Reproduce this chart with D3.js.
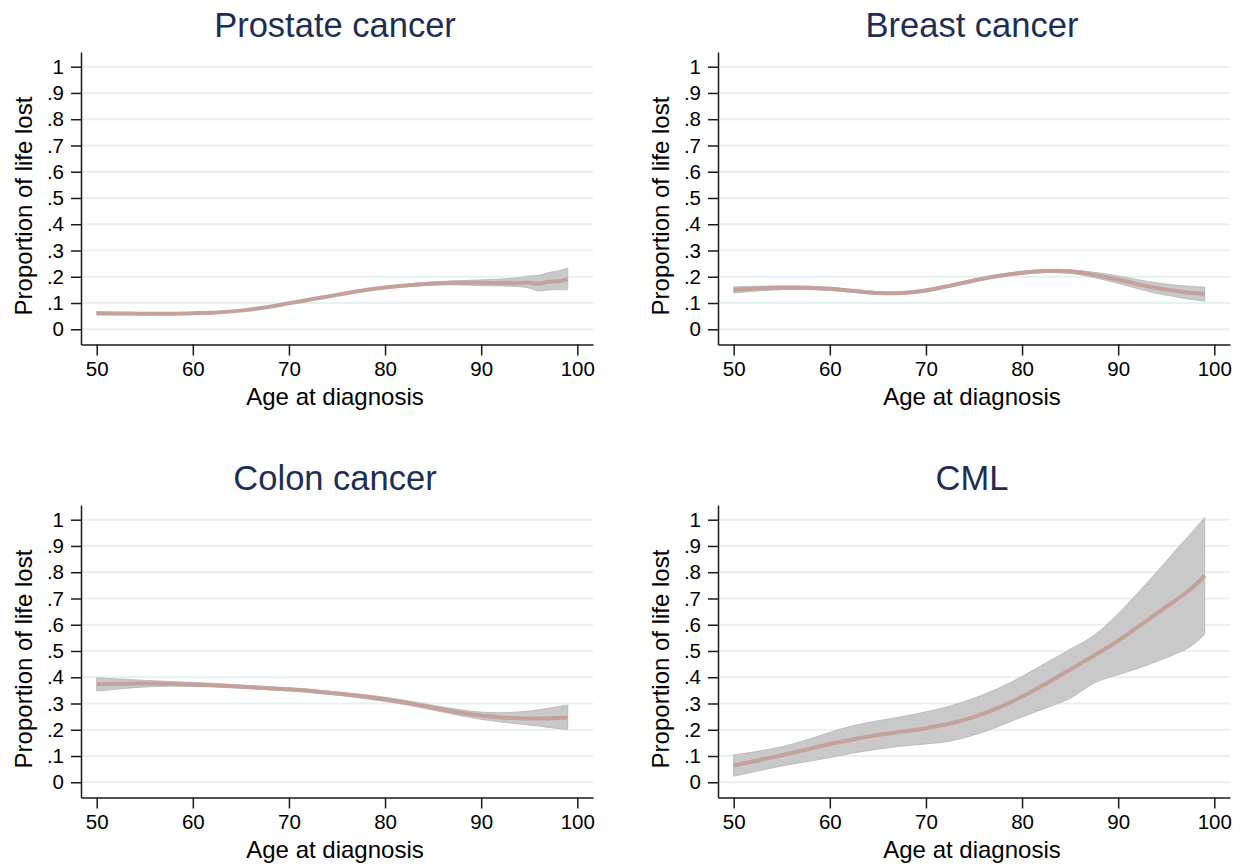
<!DOCTYPE html>
<html>
<head>
<meta charset="utf-8">
<script src="https://cdn.jsdelivr.net/npm/d3@7"></script>
<style>
    body { margin: 0; background: #fff; }
    svg { display: block; font-family: "Liberation Sans", Arial, sans-serif; }
</style>
</head>
<body>
<div class="chart-container"></div>
<script>
// age grid shared by all four panels
const ages = [50, 52.5, 55, 57.5, 60, 62.5, 65, 67.5, 70, 72.5, 75, 77.5, 80, 82.5, 85, 87.5, 90, 92, 94, 95, 96, 97, 98, 99];

const titles = ["Prostate cancer", "Breast cancer", "Colon cancer", "CML"];

const prostateEst = [.061, .060, .059, .059, .061, .064, .071, .083, .099, .115, .131, .147, .159, .168, .174, .177, .177, .176, .176, .178, .173, .181, .183, .190];
const prostateLo = [.055, .055, .055, .056, .058, .061, .068, .080, .096, .112, .128, .143, .155, .163, .168, .169, .166, .165, .162, .157, .146, .150, .151, .150];
const prostateHi = [.067, .065, .063, .062, .064, .067, .074, .086, .102, .118, .134, .151, .163, .173, .180, .185, .188, .191, .197, .203, .205, .216, .222, .233];

const breastEst = [.150, .155, .158, .158, .154, .146, .138, .138, .148, .166, .186, .203, .215, .222, .220, .207, .189, .172, .157, .151, .146, .141, .137, .134];
const breastLo = [.138, .146, .151, .152, .148, .141, .133, .133, .143, .161, .181, .198, .209, .216, .213, .197, .175, .155, .137, .130, .124, .117, .112, .107];
const breastHi = [.162, .164, .165, .164, .160, .151, .143, .143, .153, .171, .191, .208, .221, .228, .227, .217, .203, .189, .177, .172, .168, .165, .162, .161];

const colonEst = [.373, .375, .376, .375, .372, .369, .364, .359, .354, .347, .338, .328, .316, .301, .284, .267, .254, .247, .244, .243, .243, .244, .245, .246];
const colonLo = [.347, .356, .363, .366, .365, .363, .358, .353, .348, .341, .332, .321, .308, .293, .275, .256, .240, .230, .222, .218, .214, .209, .205, .201];
const colonHi = [.398, .393, .388, .384, .380, .376, .370, .365, .360, .353, .344, .335, .324, .309, .293, .278, .267, .265, .268, .271, .276, .282, .288, .294];

const cmlEst = [.064, .083, .103, .124, .146, .164, .180, .193, .206, .224, .249, .283, .326, .376, .429, .483, .539, .590, .642, .668, .694, .720, .750, .787];
const cmlLo = [.023, .043, .062, .078, .094, .112, .126, .138, .146, .157, .180, .212, .249, .283, .320, .378, .410, .433, .460, .474, .490, .506, .530, .564];
const cmlHi = [.104, .118, .135, .160, .190, .216, .234, .250, .268, .290, .320, .357, .403, .455, .506, .560, .642, .720, .800, .842, .885, .925, .966, 1.009];

const xTicks = [50, 60, 70, 80, 90, 100];
const yTicks = [0, .1, .2, .3, .4, .5, .6, .7, .8, .9, 1];

const panels = [
    { title: titles[0], est: prostateEst, lo: prostateLo, hi: prostateHi },
    { title: titles[1], est: breastEst, lo: breastLo, hi: breastHi },
    { title: titles[2], est: colonEst, lo: colonLo, hi: colonHi },
    { title: titles[3], est: cmlEst, lo: cmlLo, hi: cmlHi }
];

const width = 1242, height = 865;
const offsetX = 637, offsetY = 453;
const plot = { left: 81, right: 593, top: 52, bottom: 344.5 };

const svg = d3.select(".chart-container")
    .append("svg")
    .attr("width", width)
    .attr("height", height);

const xScale = d3.scaleLinear()
    .domain([48.367, 101.633])
    .range([plot.left, plot.right]);

const yScale = d3.scaleLinear()
    .domain([-0.058, 1.056])
    .range([plot.bottom, plot.top]);

const fmtY = v => v === 0 ? "0" : v === 1 ? "1" : d3.format(".1f")(v).replace(/^0/, "");

const drawPanel = (p, i) => {
    const g = svg.append("g")
        .attr("transform", `translate(${(i % 2) * offsetX}, ${Math.floor(i / 2) * offsetY})`);

    // grid
    g.append("g")
        .selectAll("line")
        .data(yTicks)
        .join("line")
        .attr("x1", plot.left)
        .attr("x2", plot.right)
        .attr("y1", d => yScale(d))
        .attr("y2", d => yScale(d))
        .attr("stroke", "#e6eff1")
        .attr("stroke-width", 2);

    const rows = ages.map((a, k) => ({ age: a, est: p.est[k], lo: p.lo[k], hi: p.hi[k] }));

    const area = d3.area()
        .x(d => xScale(d.age))
        .y0(d => yScale(d.lo))
        .y1(d => yScale(d.hi))
        .curve(d3.curveCatmullRom.alpha(0.5));

    g.append("path")
        .datum(rows)
        .attr("d", area)
        .attr("fill", "#c9c9c9")
        .attr("stroke", "#bcbcbc")
        .attr("stroke-width", 1);

    const line = d3.line()
        .x(d => xScale(d.age))
        .y(d => yScale(d.est))
        .curve(d3.curveCatmullRom.alpha(0.5));

    g.append("path")
        .datum(rows)
        .attr("d", line)
        .attr("fill", "none")
        .attr("stroke", "#c4a19b")
        .attr("stroke-width", 4);

    const xAxis = d3.axisBottom(xScale)
        .tickValues(xTicks)
        .tickSize(11)
        .tickSizeOuter(0)
        .tickPadding(6);

    const yAxis = d3.axisLeft(yScale)
        .tickValues(yTicks)
        .tickFormat(fmtY)
        .tickSize(10)
        .tickSizeOuter(0)
        .tickPadding(7);

    const gx = g.append("g")
        .attr("transform", `translate(0, ${plot.bottom})`)
        .call(xAxis);

    const gy = g.append("g")
        .attr("transform", `translate(${plot.left}, 0)`)
        .call(yAxis);

    [gx, gy].forEach(a => {
        a.selectAll("path, line").attr("stroke", "#1a1a1a").attr("stroke-width", 1.5);
        a.selectAll("text")
            .attr("fill", "#000")
            .style("font-size", "20.5px")
            .style("font-family", "'Liberation Sans', Arial, sans-serif");
    });

    g.append("text")
        .attr("x", 335)
        .attr("y", 36.5)
        .attr("text-anchor", "middle")
        .attr("fill", "#1e2d53")
        .style("font-size", "34.5px")
        .text(p.title);

    g.append("text")
        .attr("x", 335)
        .attr("y", 405)
        .attr("text-anchor", "middle")
        .attr("fill", "#000")
        .style("font-size", "24px")
        .text("Age at diagnosis");

    g.append("text")
        .attr("transform", "translate(32, 206) rotate(-90)")
        .attr("text-anchor", "middle")
        .attr("fill", "#000")
        .style("font-size", "24px")
        .text("Proportion of life lost");
};

panels.forEach(drawPanel);
</script>
</body>
</html>
